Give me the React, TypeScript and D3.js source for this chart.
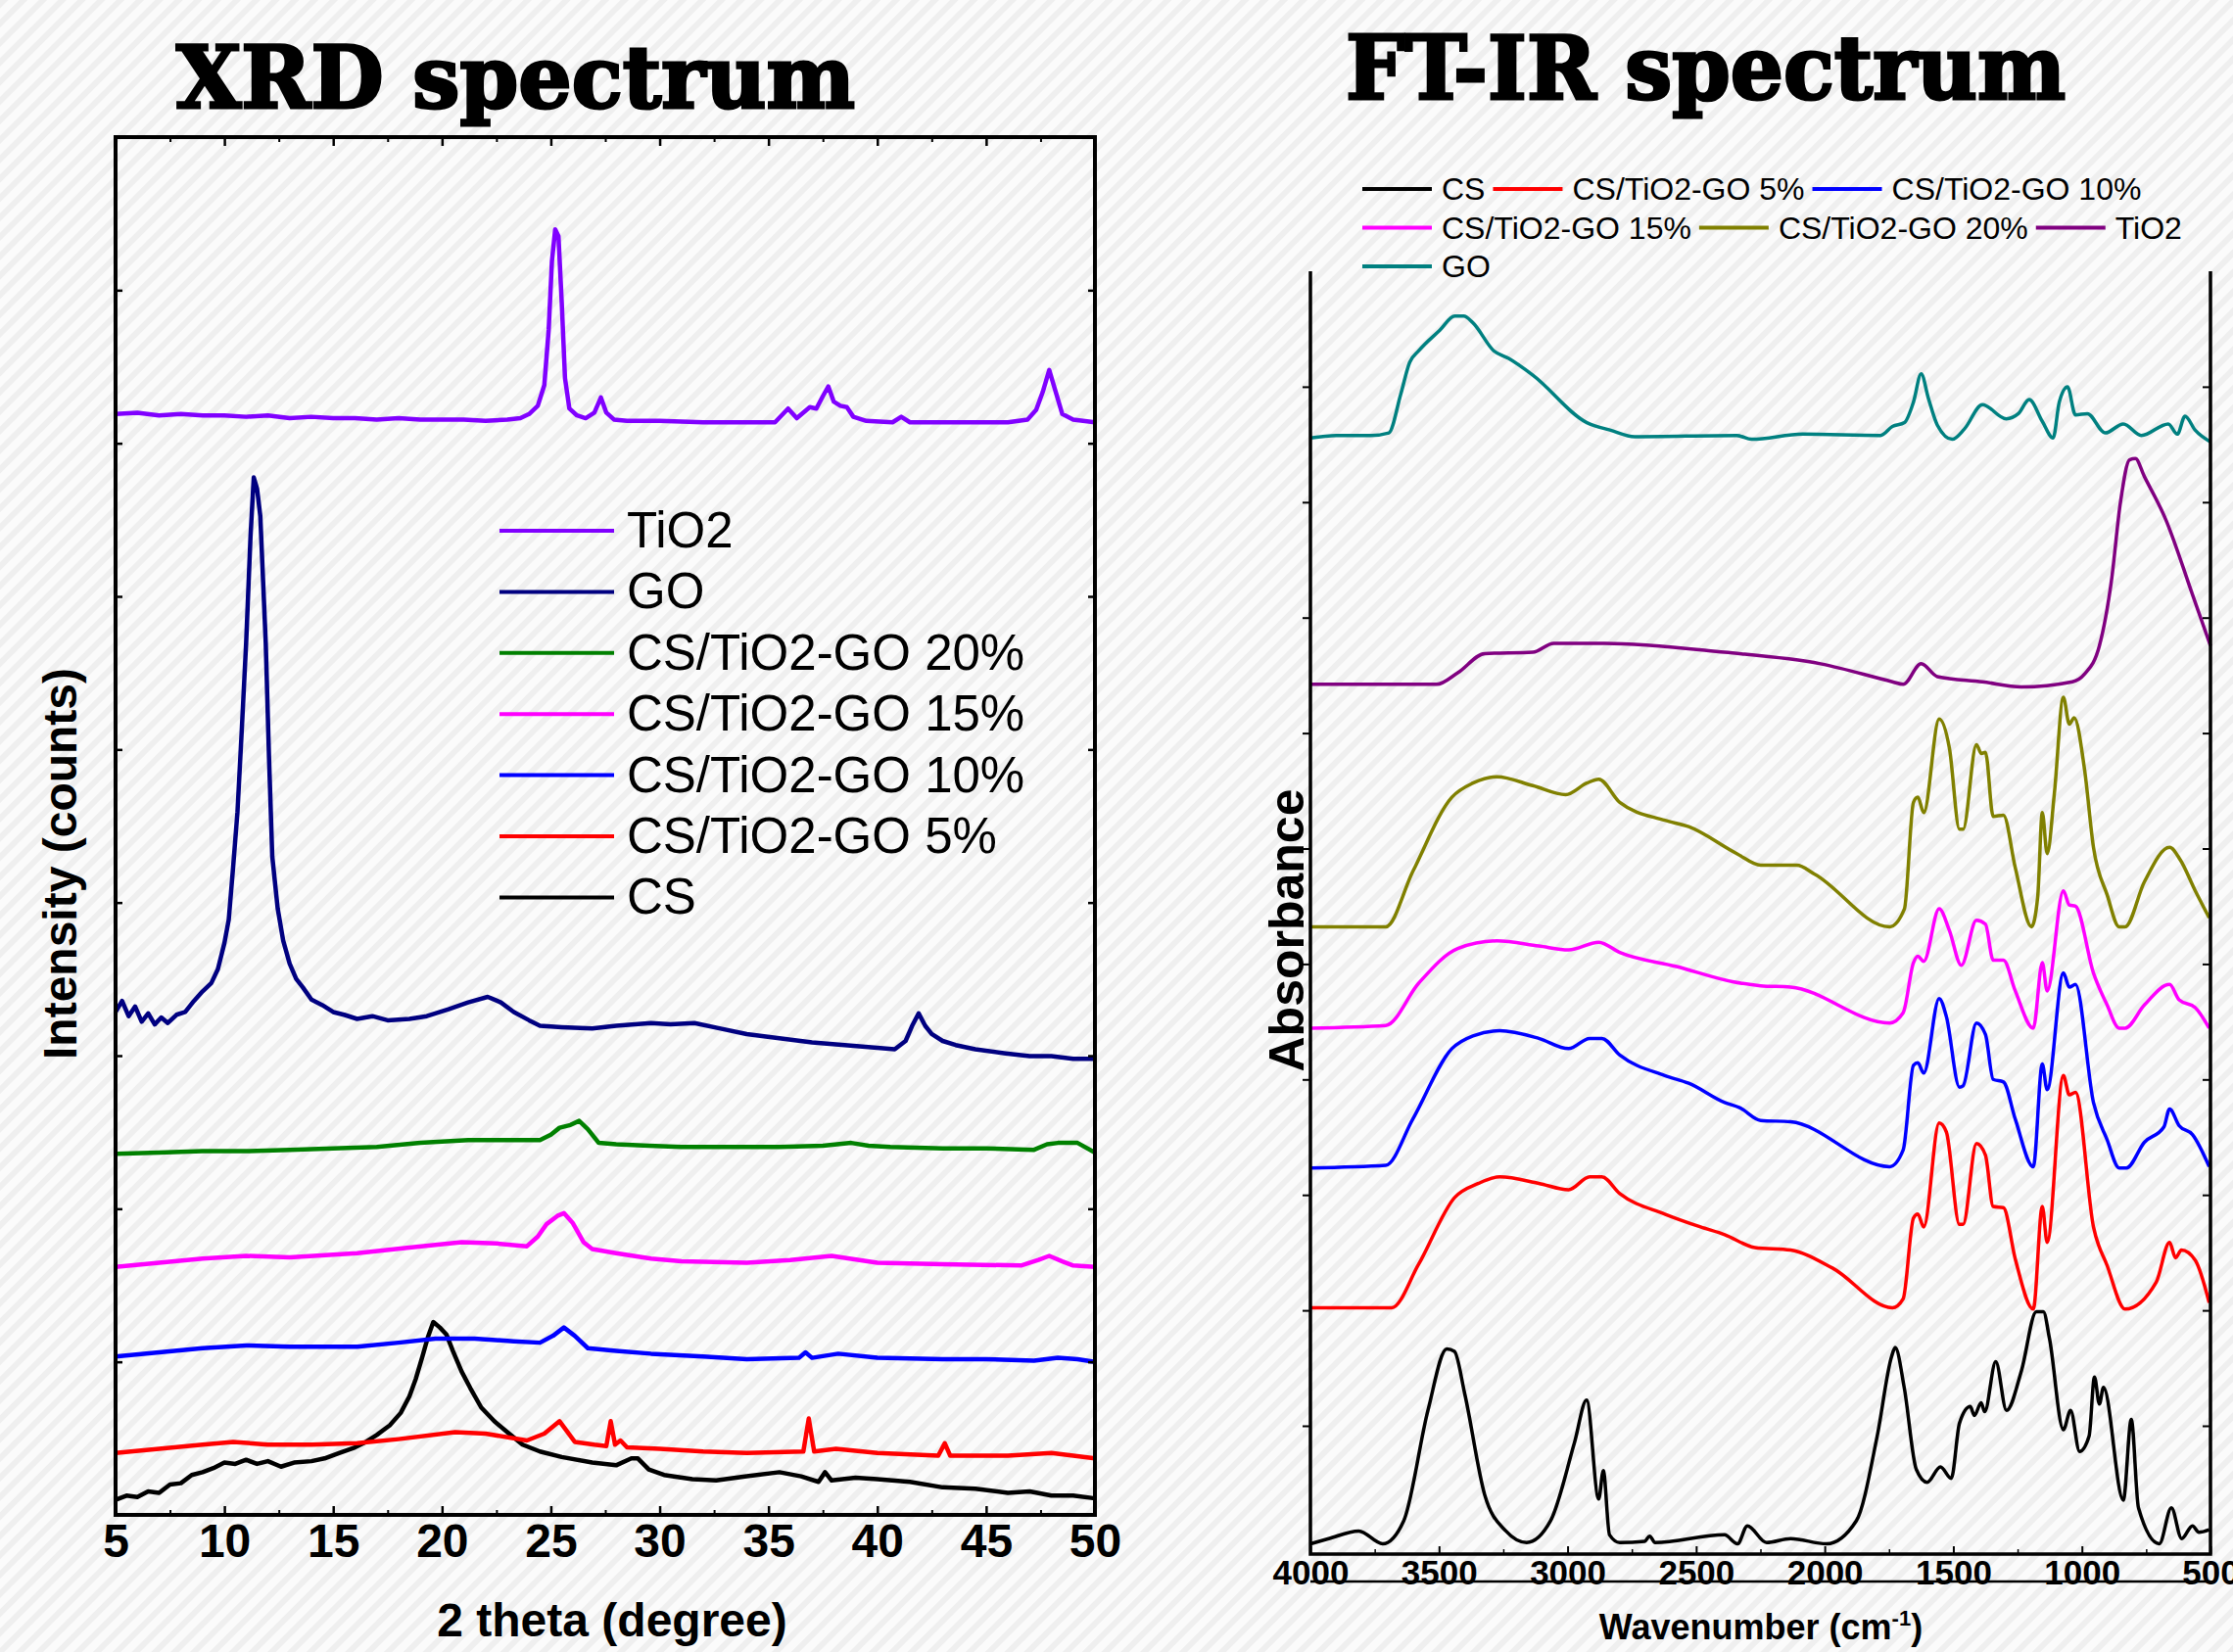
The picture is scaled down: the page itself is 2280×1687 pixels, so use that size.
import * as d3 from 'd3';
import { useEffect, useRef } from 'react';

type Pt = [number, number];

const W = 2280;
const H = 1687;

// ---- XRD: 2 theta (degree) vs intensity (arbitrary counts, stacked) ----
const xrdLabels = ['TiO2', 'GO', 'CS/TiO2-GO 20%', 'CS/TiO2-GO 15%', 'CS/TiO2-GO 10%', 'CS/TiO2-GO 5%', 'CS'];
const xrdColors = ['#8000ff', '#000080', '#008000', '#ff00ff', '#0000ff', '#ff0000', '#000000'];
const xrdTicks = [5, 10, 15, 20, 25, 30, 35, 40, 45, 50];
const xrdMinorTicks = [7.5, 12.5, 17.5, 22.5, 27.5, 32.5, 37.5, 42.5, 47.5];

const xrdTiO2: Pt[] = [
  [5, 79.9], [6, 80.0], [7, 79.8], [8, 79.9], [9, 79.8], [10, 79.8], [11, 79.7], [12, 79.8], [13, 79.6],
  [14, 79.7], [15, 79.6], [16, 79.6], [17, 79.5], [18, 79.6], [19, 79.5], [20, 79.5], [21, 79.5], [22, 79.4],
  [23, 79.5], [23.6, 79.6], [24.0, 79.9], [24.4, 80.5], [24.7, 82.0], [24.9, 86], [25.05, 91], [25.2, 93.3],
  [25.35, 92.8], [25.5, 88], [25.65, 82.5], [25.85, 80.3], [26.2, 79.8], [26.6, 79.6], [27.0, 80.0], [27.3, 81.1],
  [27.55, 80.0], [27.9, 79.5], [28.5, 79.4], [30, 79.4], [32, 79.3], [34, 79.3], [35.3, 79.3], [35.9, 80.3],
  [36.3, 79.6], [36.9, 80.4], [37.2, 80.3], [37.5, 81.2], [37.75, 81.9], [38.0, 80.8], [38.3, 80.5], [38.6, 80.4],
  [38.9, 79.7], [39.5, 79.4], [40.7, 79.3], [41.1, 79.7], [41.5, 79.3], [43, 79.3], [44, 79.3], [45, 79.3],
  [46, 79.3], [46.9, 79.5], [47.3, 80.2], [47.6, 81.5], [47.9, 83.1], [48.2, 81.5], [48.5, 79.9], [49, 79.5], [50, 79.3],
];

const xrdGO: Pt[] = [
  [5, 36.5], [5.3, 37.3], [5.6, 36.2], [5.9, 36.9], [6.2, 35.8], [6.5, 36.4], [6.8, 35.6], [7.1, 36.1], [7.4, 35.7],
  [7.8, 36.3], [8.2, 36.5], [8.6, 37.3], [9.0, 38.0], [9.4, 38.6], [9.7, 39.6], [10.0, 41.5], [10.2, 43.2],
  [10.4, 47], [10.6, 51], [10.8, 57], [11.0, 63.3], [11.2, 71], [11.35, 75.3], [11.5, 74.5], [11.65, 72.5],
  [11.8, 67], [11.9, 63.3], [12.05, 55], [12.2, 47.8], [12.45, 44], [12.7, 41.7], [13.0, 40.0], [13.3, 38.9],
  [13.6, 38.3], [14.0, 37.4], [14.5, 37.0], [15, 36.5], [15.5, 36.3], [16.1, 36.0], [16.8, 36.2], [17.5, 35.9],
  [18.5, 36.0], [19.3, 36.2], [20.3, 36.7], [21.2, 37.2], [22.1, 37.6], [22.7, 37.2], [23.3, 36.5], [24.0, 35.9],
  [24.5, 35.5], [25.5, 35.4], [26.9, 35.3], [28, 35.5], [29.6, 35.7], [30.5, 35.6], [31.6, 35.7], [32.8, 35.3],
  [34.0, 34.9], [35.5, 34.6], [37.0, 34.3], [38.5, 34.1], [40.0, 33.9], [40.8, 33.8], [41.3, 34.4], [41.6, 35.5],
  [41.9, 36.4], [42.2, 35.5], [42.5, 34.9], [43.0, 34.4], [43.6, 34.1], [44.5, 33.8], [45.9, 33.5], [47, 33.3],
  [48, 33.3], [49, 33.1], [50, 33.1],
];

const xrd20: Pt[] = [
  [5, 26.2], [7, 26.3], [9, 26.4], [11, 26.4], [13, 26.5], [15, 26.6], [17, 26.7], [19, 27.0], [21.2, 27.2],
  [23, 27.2], [24.5, 27.2], [25.0, 27.6], [25.4, 28.1], [25.9, 28.3], [26.3, 28.6], [26.7, 28.0], [27.2, 27.0],
  [28, 26.9], [29.5, 26.8], [31, 26.7], [33, 26.7], [35.5, 26.7], [37.5, 26.8], [38.8, 27.0], [39.6, 26.8],
  [40.6, 26.7], [43, 26.6], [45, 26.6], [47.2, 26.5], [47.8, 26.9], [48.3, 27.0], [49.2, 27.0], [50, 26.3],
];

const xrd15: Pt[] = [
  [5, 18.0], [7, 18.3], [9, 18.6], [11, 18.8], [13, 18.7], [16.1, 19.0], [18.5, 19.4], [20.9, 19.8], [22.5, 19.7],
  [23.9, 19.5], [24.4, 20.2], [24.8, 21.1], [25.3, 21.7], [25.6, 21.9], [26.0, 21.2], [26.5, 19.8], [26.9, 19.3],
  [28.0, 19.0], [29.6, 18.6], [31, 18.4], [34.0, 18.3], [36, 18.5], [37.9, 18.8], [40.0, 18.3], [43, 18.2],
  [46.6, 18.1], [47.4, 18.5], [47.9, 18.8], [48.5, 18.4], [49.0, 18.1], [50, 18.0],
];

const xrd10: Pt[] = [
  [5, 11.5], [7, 11.8], [9, 12.1], [11, 12.3], [13, 12.2], [16.1, 12.2], [18, 12.5], [19.7, 12.8], [21.5, 12.8],
  [23.3, 12.6], [24.5, 12.5], [25.1, 13.0], [25.6, 13.6], [26.1, 13.0], [26.7, 12.1], [28, 11.9], [29.6, 11.7],
  [32, 11.5], [34.0, 11.3], [36.4, 11.4], [36.7, 11.8], [37.0, 11.4], [38.2, 11.7], [40, 11.4], [43, 11.3],
  [45, 11.3], [47.2, 11.2], [48.3, 11.4], [49.2, 11.3], [50, 11.1],
];

const xrd5: Pt[] = [
  [5, 4.5], [7, 4.8], [9, 5.1], [10.4, 5.3], [12, 5.1], [14, 5.1], [16.1, 5.2], [18, 5.5], [20.6, 6.0], [22, 5.9],
  [23.9, 5.4], [24.7, 5.9], [25.4, 6.8], [26.1, 5.3], [27.0, 5.1], [27.55, 5.0], [27.75, 6.8], [27.95, 5.1],
  [28.2, 5.4], [28.5, 4.9], [30, 4.8], [32, 4.6], [34.0, 4.5], [36.6, 4.6], [36.85, 7.0], [37.1, 4.6], [38.1, 4.8],
  [40, 4.5], [42.8, 4.3], [43.1, 5.2], [43.35, 4.3], [46, 4.3], [48.0, 4.5], [49, 4.3], [50, 4.1],
];

const xrdCS: Pt[] = [
  [5, 1.1], [5.5, 1.4], [6, 1.3], [6.5, 1.7], [7, 1.6], [7.5, 2.2], [8, 2.3], [8.5, 2.9], [9, 3.1], [9.5, 3.4],
  [10, 3.8], [10.5, 3.7], [11, 4.0], [11.5, 3.7], [12, 3.9], [12.6, 3.5], [13.2, 3.8], [14, 3.9], [14.6, 4.1],
  [15.3, 4.5], [16, 4.9], [16.5, 5.3], [17, 5.8], [17.6, 6.5], [18.1, 7.4], [18.5, 8.6], [18.8, 9.9], [19.1, 11.5],
  [19.35, 12.9], [19.6, 14.0], [19.9, 13.6], [20.2, 13.1], [20.5, 11.9], [20.9, 10.4], [21.3, 9.2], [21.8, 7.8],
  [22.4, 6.8], [23.0, 6.0], [23.7, 5.1], [24.5, 4.6], [25.5, 4.2], [26.9, 3.8], [28, 3.6], [28.7, 4.1], [29.0, 4.1],
  [29.5, 3.3], [30.2, 2.9], [31.5, 2.6], [32.6, 2.5], [34, 2.8], [35.5, 3.1], [36.5, 2.8], [37.3, 2.4], [37.6, 3.1],
  [37.9, 2.5], [39, 2.7], [40.0, 2.6], [41.5, 2.4], [43.0, 2.0], [44.5, 1.9], [46.0, 1.6], [47, 1.7], [48, 1.4],
  [49, 1.4], [50, 1.2],
];

const xrdSeries = [xrdTiO2, xrdGO, xrd20, xrd15, xrd10, xrd5, xrdCS];

// ---- FT-IR: wavenumber (cm-1) vs absorbance (arbitrary, stacked) ----
const ftirLabels = ['CS', 'CS/TiO2-GO 5%', 'CS/TiO2-GO 10%', 'CS/TiO2-GO 15%', 'CS/TiO2-GO 20%', 'TiO2', 'GO'];
const ftirColors = ['#000000', '#ff0000', '#0000ff', '#ff00ff', '#808000', '#800080', '#008080'];
const ftirTicks = [4000, 3500, 3000, 2500, 2000, 1500, 1000, 500];
const ftirMinorTicks = [3750, 3250, 2750, 2250, 1750, 1250, 750];
const ftirLegendRows = [[0, 1, 2], [3, 4, 5], [6]];

const ftirCS: Pt[] = [
  [4000, 0.8], [3929, 1.2], [3812, 1.8], [3719, 0.8], [3637, 2.6], [3543, 11.2], [3470, 16.0], [3440, 15.8],
  [3400, 12.5], [3322, 4.6], [3240, 1.8], [3159, 0.9], [3066, 2.6], [2973, 8.7], [2926, 12.0], [2879, 4.3],
  [2861, 6.5], [2837, 1.5], [2797, 0.9], [2700, 1.0], [2681, 1.4], [2660, 0.9], [2390, 1.5], [2339, 0.8],
  [2301, 2.2], [2226, 0.9], [2133, 1.2], [1993, 0.8], [1877, 2.6], [1796, 9.2], [1740, 15.4], [1726, 16.1],
  [1691, 13.0], [1644, 6.6], [1602, 5.6], [1550, 6.8], [1508, 5.9], [1476, 10.2], [1434, 11.5], [1418, 10.8],
  [1392, 11.8], [1378, 11.1], [1335, 15.0], [1293, 11.2], [1235, 14.3], [1177, 18.9], [1150, 18.9], [1126, 16.8],
  [1072, 9.7], [1044, 11.2], [1009, 8.0], [972, 9.2], [951, 13.8], [932, 11.7], [916, 13.0], [839, 4.2],
  [808, 10.5], [780, 3.6], [699, 0.8], [652, 3.6], [612, 1.2], [570, 2.2], [545, 1.7], [505, 1.9],
];

const ftir5: Pt[] = [
  [4000, 19.2], [3684, 19.2], [3579, 22.6], [3439, 27.8], [3346, 28.9], [3264, 29.4], [3112, 28.9], [2996, 28.4],
  [2914, 29.4], [2867, 29.4], [2797, 28.1], [2622, 26.5], [2483, 25.5], [2389, 24.9], [2272, 23.9], [2133, 23.7],
  [1970, 22.3], [1737, 19.2], [1695, 19.9], [1655, 26.2], [1638, 26.5], [1615, 25.5], [1555, 33.6], [1527, 32.9],
  [1476, 25.7], [1462, 25.7], [1410, 32.0], [1375, 31.1], [1345, 27.1], [1305, 27.0], [1259, 23.0], [1189, 19.1],
  [1154, 27.1], [1135, 24.3], [1072, 37.3], [1049, 35.8], [1025, 36.0], [955, 25.5], [902, 22.5], [832, 19.1],
  [711, 21.2], [659, 24.3], [636, 23.1], [613, 23.7], [559, 22.9], [505, 19.6],
];

const ftir10: Pt[] = [
  [4000, 30.1], [3707, 30.3], [3602, 33.9], [3450, 39.4], [3368, 40.4], [3264, 40.8], [3112, 40.2], [2996, 39.4],
  [2914, 40.2], [2867, 40.2], [2797, 38.9], [2622, 37.3], [2529, 36.7], [2389, 35.2], [2331, 34.8], [2249, 33.8],
  [2133, 33.7], [1748, 30.2], [1695, 31.5], [1655, 38.1], [1638, 38.3], [1615, 37.5], [1555, 43.3], [1527, 41.9],
  [1476, 36.4], [1462, 36.5], [1410, 41.4], [1375, 40.5], [1345, 37.0], [1305, 36.8], [1259, 33.9], [1189, 30.2],
  [1154, 38.2], [1135, 36.2], [1072, 45.3], [1049, 44.2], [1025, 44.4], [955, 35.2], [902, 32.3], [855, 30.1],
  [827, 30.1], [757, 32.1], [681, 33.3], [659, 34.7], [622, 33.4], [570, 32.7], [505, 30.2],
];

const ftir15: Pt[] = [
  [4000, 41.0], [3707, 41.2], [3579, 44.5], [3427, 47.2], [3275, 47.8], [3112, 47.4], [2996, 47.1], [2879, 47.7],
  [2797, 46.9], [2576, 45.8], [2354, 44.6], [2249, 44.3], [2133, 44.2], [1748, 41.4], [1695, 42.2], [1655, 46.1],
  [1638, 46.6], [1615, 46.2], [1555, 50.3], [1515, 48.6], [1469, 45.9], [1410, 49.4], [1375, 49.1], [1345, 46.3],
  [1305, 46.3], [1259, 43.9], [1189, 41.0], [1154, 46.1], [1135, 43.9], [1072, 51.7], [1049, 50.6], [1025, 50.5],
  [955, 45.3], [902, 42.8], [855, 41.0], [832, 41.0], [757, 42.8], [659, 44.4], [622, 43.2], [559, 42.6], [505, 41.0],
];

const ftir20: Pt[] = [
  [4000, 48.9], [3707, 48.9], [3602, 53.2], [3450, 59.0], [3368, 60.1], [3275, 60.6], [3135, 59.9], [3007, 59.2],
  [2925, 60.1], [2879, 60.4], [2797, 58.6], [2622, 57.2], [2529, 56.7], [2342, 54.6], [2249, 53.7], [2109, 53.7],
  [2039, 53.0], [1748, 48.9], [1690, 50.3], [1655, 58.6], [1638, 59.0], [1615, 57.8], [1555, 65.1], [1515, 62.8],
  [1476, 56.5], [1462, 56.5], [1410, 63.1], [1391, 62.4], [1375, 62.5], [1345, 57.5], [1305, 57.6], [1259, 53.5],
  [1196, 48.9], [1172, 51.2], [1154, 57.8], [1135, 54.6], [1107, 59.3], [1072, 66.8], [1049, 64.7], [1030, 65.2],
  [990, 61.2], [955, 55.1], [902, 51.4], [855, 48.9], [832, 48.9], [757, 52.4], [659, 55.1], [617, 54.1],
  [559, 51.7], [505, 49.6],
];

const ftirTiO2: Pt[] = [
  [4000, 67.8], [3509, 67.8], [3427, 68.7], [3322, 70.2], [3135, 70.3], [3054, 71.0], [2856, 71.0], [2390, 70.3],
  [2016, 69.4], [1737, 68.0], [1695, 67.8], [1625, 69.4], [1562, 68.4], [1387, 68.0], [1235, 67.6], [1037, 68.0],
  [990, 68.6], [932, 70.8], [885, 75.9], [850, 82.0], [815, 85.3], [792, 85.4], [757, 84.0], [675, 80.7],
  [570, 74.8], [500, 70.8],
];

const ftirGO: Pt[] = [
  [4000, 87.0], [3900, 87.2], [3765, 87.2], [3695, 87.4], [3649, 90.4], [3614, 92.9], [3579, 93.8], [3497, 95.4],
  [3439, 96.5], [3404, 96.5], [3369, 96.0], [3287, 93.8], [3229, 93.2], [3135, 91.9], [2925, 88.2], [2832, 87.6],
  [2739, 87.1], [2342, 87.2], [2284, 86.9], [2086, 87.3], [1783, 87.2], [1737, 87.9], [1690, 88.2], [1655, 89.8],
  [1625, 92.0], [1597, 90.1], [1562, 88.0], [1504, 86.9], [1457, 87.7], [1387, 89.6], [1294, 88.5], [1247, 88.9],
  [1205, 90.0], [1154, 88.3], [1112, 87.0], [1088, 89.8], [1056, 91.0], [1025, 88.8], [979, 88.9], [909, 87.4],
  [839, 88.1], [769, 87.2], [664, 88.1], [629, 87.3], [599, 88.7], [559, 87.6], [500, 86.7],
];

const ftirSeries = [ftirCS, ftir5, ftir10, ftir15, ftir20, ftirTiO2, ftirGO];

const SANS = "'Liberation Sans', Arial, sans-serif";
const SERIF = "'DejaVu Serif', serif";

export default function App() {
  const ref = useRef<SVGSVGElement>(null);

  useEffect(() => {
    document.body.style.margin = '0';
    const svg = d3.select(ref.current);
    svg.selectAll('*').remove();

    // striped background
    const defs = svg.append('defs');
    const pat = defs.append('pattern')
      .attr('id', 'stripes')
      .attr('patternUnits', 'userSpaceOnUse')
      .attr('width', 14)
      .attr('height', 14)
      .attr('patternTransform', 'rotate(45)');
    pat.append('rect').attr('width', 14).attr('height', 14).attr('fill', '#fbfbfb');
    pat.append('rect').attr('width', 6).attr('height', 14).attr('fill', '#efefef');
    svg.append('rect').attr('width', W).attr('height', H).attr('fill', 'url(#stripes)');

    // ================= XRD =================
    const x1 = d3.scaleLinear().domain([5, 50]).range([118, 1118]);
    const y1 = d3.scaleLinear().domain([0, 100]).range([1547, 140]);
    const xrdYTicks = d3.range(1, 9).map(i => (i * 100) / 9);
    const g1 = svg.append('g');

    const line1 = d3.line<Pt>().x(d => x1(d[0])).y(d => y1(d[1]));
    for (let i = xrdSeries.length - 1; i >= 0; i--) {
      g1.append('path')
        .datum(xrdSeries[i])
        .attr('d', line1)
        .attr('fill', 'none')
        .attr('stroke', xrdColors[i])
        .attr('stroke-width', 4.5)
        .attr('stroke-linejoin', 'round');
    }

    const styleAxis = (sel: any, w: number) => {
      sel.select('.domain').remove();
      sel.selectAll('line').attr('stroke', '#000').attr('stroke-width', w);
    };

    g1.append('g')
      .attr('transform', 'translate(0,1547)')
      .call(d3.axisBottom(x1).tickValues(xrdTicks).tickSize(-9).tickPadding(9).tickFormat(d3.format('d')))
      .call(styleAxis, 2.5)
      .selectAll('text')
      .attr('font-family', SANS)
      .attr('font-weight', 'bold')
      .attr('font-size', 48)
      .attr('fill', '#000');
    g1.append('g')
      .attr('transform', 'translate(0,1547)')
      .call(d3.axisBottom(x1).tickValues(xrdMinorTicks).tickSize(-5).tickFormat(() => ''))
      .call(styleAxis, 2);
    g1.append('g')
      .attr('transform', 'translate(0,140)')
      .call(d3.axisTop(x1).tickValues(xrdTicks).tickSize(-9).tickFormat(() => ''))
      .call(styleAxis, 2.5);
    g1.append('g')
      .attr('transform', 'translate(0,140)')
      .call(d3.axisTop(x1).tickValues(xrdMinorTicks).tickSize(-5).tickFormat(() => ''))
      .call(styleAxis, 2);
    g1.append('g')
      .attr('transform', 'translate(118,0)')
      .call(d3.axisLeft(y1).tickValues(xrdYTicks).tickSize(-7).tickFormat(() => ''))
      .call(styleAxis, 2.5);
    g1.append('g')
      .attr('transform', 'translate(1118,0)')
      .call(d3.axisRight(y1).tickValues(xrdYTicks).tickSize(-7).tickFormat(() => ''))
      .call(styleAxis, 2.5);

    g1.append('rect')
      .attr('x', 118).attr('y', 140).attr('width', 1000).attr('height', 1407)
      .attr('fill', 'none').attr('stroke', '#000').attr('stroke-width', 4);

    g1.append('text')
      .attr('x', 180).attr('y', 110)
      .attr('textLength', 693).attr('lengthAdjust', 'spacingAndGlyphs')
      .attr('font-family', SERIF).attr('font-weight', 'bold').attr('font-size', 88)
      .attr('stroke', '#000').attr('stroke-width', 3)
      .text('XRD spectrum');

    g1.append('text')
      .attr('transform', 'translate(78,882) rotate(-90)')
      .attr('text-anchor', 'middle')
      .attr('font-family', SANS).attr('font-weight', 'bold').attr('font-size', 48)
      .text('Intensity (counts)');

    g1.append('text')
      .attr('x', 625).attr('y', 1671)
      .attr('text-anchor', 'middle')
      .attr('font-family', SANS).attr('font-weight', 'bold').attr('font-size', 48)
      .text('2 theta (degree)');

    const leg1 = g1.append('g');
    xrdLabels.forEach((lab, i) => {
      const cy = 542 + i * 62.4;
      leg1.append('line')
        .attr('x1', 510).attr('x2', 627).attr('y1', cy).attr('y2', cy)
        .attr('stroke', xrdColors[i]).attr('stroke-width', 4);
      leg1.append('text')
        .attr('x', 640).attr('y', cy + 17)
        .attr('font-family', SANS).attr('font-size', 51)
        .text(lab);
    });

    // ================= FT-IR =================
    const x2 = d3.scaleLinear().domain([4000, 500]).range([1338, 2257]);
    const y2 = d3.scaleLinear().domain([0, 100]).range([1587, 277]);
    const ftirYTicks = d3.range(1, 11).map(k => 100 - 9 * k);
    const g2 = svg.append('g');

    const line2 = d3.line<Pt>().x(d => x2(d[0])).y(d => y2(d[1])).curve(d3.curveMonotoneX);
    for (let i = ftirSeries.length - 1; i >= 0; i--) {
      g2.append('path')
        .datum(ftirSeries[i])
        .attr('d', line2)
        .attr('fill', 'none')
        .attr('stroke', ftirColors[i])
        .attr('stroke-width', 3.5)
        .attr('stroke-linejoin', 'round');
    }

    g2.append('g')
      .attr('transform', 'translate(0,1587)')
      .call(d3.axisBottom(x2).tickValues(ftirTicks).tickSize(-8).tickPadding(6).tickFormat(d3.format('d')))
      .call(styleAxis, 2)
      .selectAll('text')
      .attr('font-family', SANS)
      .attr('font-weight', 'bold')
      .attr('font-size', 35)
      .attr('fill', '#000');
    g2.append('g')
      .attr('transform', 'translate(0,1587)')
      .call(d3.axisBottom(x2).tickValues(ftirMinorTicks).tickSize(-5).tickFormat(() => ''))
      .call(styleAxis, 1.5);
    g2.append('g')
      .attr('transform', 'translate(1338,0)')
      .call(d3.axisLeft(y2).tickValues(ftirYTicks).tickSize(8).tickFormat(() => ''))
      .call(styleAxis, 2);
    g2.append('g')
      .attr('transform', 'translate(2257,0)')
      .call(d3.axisRight(y2).tickValues(ftirYTicks).tickSize(-8).tickFormat(() => ''))
      .call(styleAxis, 2);

    // open frame: left, right, bottom
    g2.append('path')
      .attr('d', `M${x2(4000)},${y2(100)}V${y2(0)}H${x2(500)}V${y2(100)}`)
      .attr('fill', 'none').attr('stroke', '#000').attr('stroke-width', 3.5);
    g2.append('line')
      .attr('x1', x2(4000)).attr('x2', x2(500)).attr('y1', 1615).attr('y2', 1615)
      .attr('stroke', '#000').attr('stroke-width', 2.5);

    g2.append('text')
      .attr('x', 1374).attr('y', 101)
      .attr('textLength', 735).attr('lengthAdjust', 'spacingAndGlyphs')
      .attr('font-family', SERIF).attr('font-weight', 'bold').attr('font-size', 90)
      .attr('stroke', '#000').attr('stroke-width', 3)
      .text('FT-IR spectrum');

    g2.append('text')
      .attr('transform', 'translate(1331,950) rotate(-90)')
      .attr('text-anchor', 'middle')
      .attr('font-family', SANS).attr('font-weight', 'bold').attr('font-size', 50)
      .text('Absorbance');

    const xl = g2.append('text')
      .attr('x', 1798).attr('y', 1674)
      .attr('text-anchor', 'middle')
      .attr('font-family', SANS).attr('font-weight', 'bold').attr('font-size', 36);
    xl.append('tspan').text('Wavenumber (cm');
    xl.append('tspan').attr('font-size', 22).attr('dy', -14).text('-1');
    xl.append('tspan').attr('dy', 14).text(')');

    const leg2 = g2.append('g');
    ftirLegendRows.forEach((row, r) => {
      const cy = 193 + r * 39.5;
      let x = 1391;
      row.forEach(i => {
        leg2.append('line')
          .attr('x1', x).attr('x2', x + 71).attr('y1', cy).attr('y2', cy)
          .attr('stroke', ftirColors[i]).attr('stroke-width', 4);
        const t = leg2.append('text')
          .attr('x', x + 81).attr('y', cy + 11)
          .attr('font-family', SANS).attr('font-size', 32)
          .text(ftirLabels[i]);
        const tw = (t.node() as SVGTextElement).getComputedTextLength();
        x += 81 + tw + 8;
      });
    });
  }, []);

  return (
    <svg
      ref={ref}
      width={W}
      height={H}
      viewBox={`0 0 ${W} ${H}`}
      style={{ display: 'block', position: 'absolute', left: 0, top: 0 }}
    />
  );
}
